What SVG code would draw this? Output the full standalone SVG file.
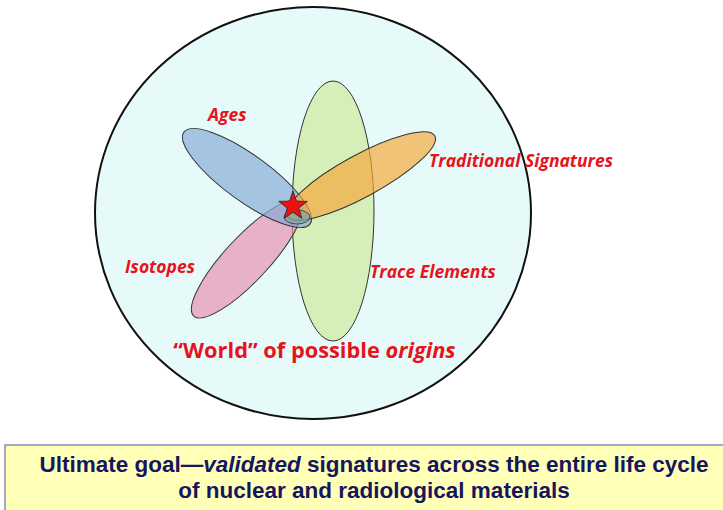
<svg xmlns="http://www.w3.org/2000/svg" width="723" height="510" viewBox="0 0 723 510">
<style>
.lbl{font-family:"Open Sans","Liberation Sans",sans-serif;font-weight:bold;font-style:italic;fill:#e8121c;font-size:17.5px}
.sig{stroke:#333;stroke-width:1;fill-opacity:0.68}
.goal{font-family:"Liberation Sans",Arial,sans-serif;font-weight:bold;font-size:22.5px;fill:#151560}
</style>
<rect width="723" height="510" fill="#ffffff"/>
<g id="world">
<ellipse cx="313" cy="213" rx="218" ry="206" fill="#e6fbf9" stroke="#111" stroke-width="2"/>
<text x="314.5" y="358" text-anchor="middle" font-family="'Open Sans','Liberation Sans',sans-serif" font-weight="bold" font-size="21.8" fill="#e8121c">“World” of possible <tspan font-style="italic">origins</tspan></text>
</g>
<g id="trace">
<ellipse class="sig" cx="333" cy="211" rx="41" ry="130" fill="#cfe89a"/>
<text class="lbl" x="370" y="278">Trace Elements</text>
</g>
<g id="isotopes">
<ellipse class="sig" cx="247" cy="259" rx="78" ry="22" transform="rotate(-47 247 259)" fill="#e88fb0"/>
<text class="lbl" x="125" y="273">Isotopes</text>
</g>
<g id="ages">
<ellipse class="sig" cx="247" cy="178" rx="78" ry="23" transform="rotate(36 247 178)" fill="#86aad6"/>
<text class="lbl" x="208" y="121">Ages</text>
</g>
<g id="traditional">
<ellipse class="sig" cx="361" cy="176" rx="84" ry="21" transform="rotate(-28.5 361 176)" fill="#f5a838"/>
<text class="lbl" x="429" y="167">Traditional Signatures</text>
</g>
<g id="origin">
<ellipse cx="297" cy="217" rx="13" ry="7" fill="#7aa6a8" fill-opacity="0.7" stroke="#333" stroke-width="0.8"/>
<polygon points="293,191 296.5,201.2 307.3,201.4 298.7,208 301.8,218.4 293,212.2 284.2,218.4 287.3,208 278.7,201.4 289.5,201.2" fill="#ee1111" stroke="#333" stroke-width="1"/>
</g>
<g id="goal">
<rect x="5" y="445" width="720" height="66" fill="#ffffb8" stroke="#8a8ab8" stroke-width="1.5"/>
<text class="goal" x="374" y="472" text-anchor="middle">Ultimate goal—<tspan font-style="italic">validated</tspan> signatures across the entire life cycle</text>
<text class="goal" x="374" y="498" text-anchor="middle">of nuclear and radiological materials</text>
</g>
<g id="connectors"/>
</svg>
